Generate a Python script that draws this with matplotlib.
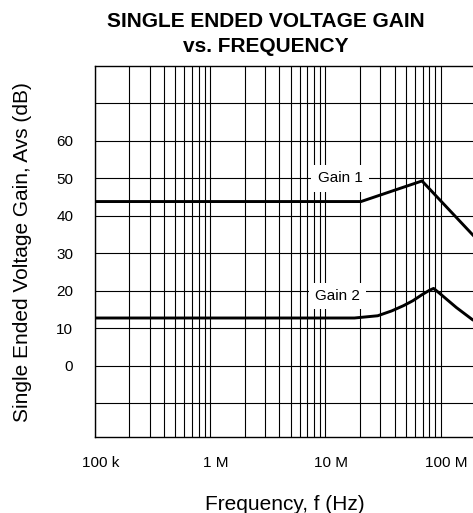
import matplotlib
matplotlib.use("Agg")
import matplotlib.pyplot as plt
from matplotlib.ticker import FixedLocator, NullFormatter
from matplotlib.transforms import ScaledTranslation

plt.rcParams["font.family"] = ["Liberation Sans", "DejaVu Sans"]

# Gain 1 curve (frequency in Hz, gain in dB)
gain1_f = [1e5, 2.04e7, 6.9e7, 1.9e8, 2e8]
gain1_db = [43.8, 43.8, 49.3, 34.9, 34.2]

# Gain 2 curve
gain2_f = [1e5, 1.79e7, 2.85e7, 3.77e7, 4.77e7, 5.74e7, 6.88e7, 8.0e7, 8.7e7,
           9.8e7, 1.37e8, 1.9e8, 2e8]
gain2_db = [12.7, 12.7, 13.3, 14.6, 16.0, 17.3, 18.9, 20.1, 20.6,
            19.3, 15.5, 12.2, 11.9]

x_ticks = [1e5, 1e6, 1e7, 1e8]
x_tick_labels = ["100 k", "1 M", "10 M", "100 M"]
y_grid = list(range(-10, 80, 10))
y_labels = ["", "0", "10", "20", "30", "40", "50", "60", ""]

W, H = 473, 513
fig = plt.figure(figsize=(W / 100, H / 100), dpi=100)
ax = fig.add_axes([94.7 / W, 1 - 436.7 / H, 380.6 / W, 370.7 / H])

ax.plot(gain1_f, gain1_db, color="black", lw=2.1, solid_joinstyle="miter", zorder=3)
ax.plot(gain2_f, gain2_db, color="black", lw=2.1, zorder=3)

ax.set_xscale("log")
ax.set_xlim(1e5, 2e8)
ax.set_ylim(-19, 80)

ax.xaxis.set_major_locator(FixedLocator(x_ticks))
ax.set_xticklabels(x_tick_labels)
minor = [m * 10 ** e for e in range(5, 9) for m in range(2, 10) if m * 10 ** e < 2e8]
ax.xaxis.set_minor_locator(FixedLocator(minor))
ax.xaxis.set_minor_formatter(NullFormatter())
ax.set_yticks(y_grid)
ax.set_yticklabels(y_labels)

ax.grid(True, which="both", color="black", lw=0.8)
ax.tick_params(which="both", length=0, labelsize=11)
ax.tick_params(axis="x", pad=14)
ax.tick_params(axis="y", pad=15.5)
for sp in ax.spines.values():
    sp.set_linewidth(1.0)

# x labels in the original sit a few pixels right of their grid line
shift = ScaledTranslation(0.06, 0, fig.dpi_scale_trans)
for lbl in ax.get_xticklabels():
    lbl.set_transform(lbl.get_transform() + shift)

box = dict(facecolor="white", edgecolor="none", pad=4.5)
ax.text(1.34e7, 50, "Gain 1", fontsize=11, ha="center", va="center", bbox=box, zorder=4)
ax.text(1.27e7, 18.6, "Gain 2", fontsize=11, ha="center", va="center", bbox=box, zorder=4)

fig.text(266 / W, 1 - 27 / H, "SINGLE ENDED VOLTAGE GAIN", fontsize=15,
         fontweight="bold", ha="center", va="baseline")
fig.text(266 / W, 1 - 52.5 / H, "vs. FREQUENCY", fontsize=15,
         fontweight="bold", ha="center", va="baseline")
fig.text(285 / W, 1 - 509.5 / H, "Frequency, f (Hz)", fontsize=15,
         ha="center", va="baseline")
fig.text(22.5 / W, 1 - 251.7 / H, "Single Ended Voltage Gain, Avs (dB)", fontsize=15,
         ha="center", va="center", rotation=90)

fig.savefig("out.png", dpi=100)
